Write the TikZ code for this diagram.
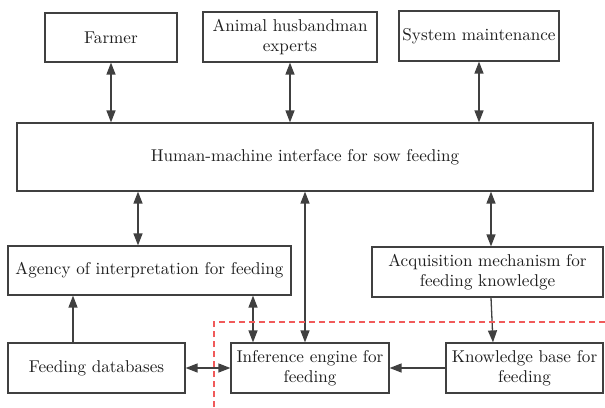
\documentclass[tikz,border=0pt]{standalone}
\usepackage{fontspec}
\newfontfamily\boxfont{lmroman10-regular}[Extension=.otf]
\usetikzlibrary{arrows.meta}
\definecolor{edge}{HTML}{404040}
\definecolor{ink}{HTML}{1E1E1E}
\definecolor{zone}{HTML}{F05A5A}
\begin{document}
\begin{tikzpicture}[x=1pt,y=-1pt,
  box/.style={draw=edge,line width=1.2pt,inner sep=0.5pt,align=center,
    text=ink,font=\boxfont\fontsize{17.1}{20.5}\selectfont},
  link/.style={draw=edge,line width=1.3pt},
  dbl/.style={link,{Triangle[length=12pt,width=9pt]}-{Triangle[length=12pt,width=9pt]}},
  one/.style={link,-{Triangle[length=12pt,width=9pt]}},
  zoneline/.style={draw=zone,line width=1.4pt,dash pattern=on 6pt off 4pt}]
\useasboundingbox (0,0) rectangle (605,407);

% top row: users of the system
\node[box,minimum width=132pt,minimum height=49pt] (farmer) at (111,37.5) {Farmer};
\node[box,minimum width=174pt,minimum height=50pt] (expert) at (290,37) {Animal husbandman\\experts};
\node[box,minimum width=160pt,minimum height=50pt] (maint) at (479,36) {System maintenance};

% interface
\node[box,minimum width=576pt,minimum height=68pt] (hmi) at (305,157) {Human-machine interface for sow feeding};

% middle row
\node[box,minimum width=283pt,minimum height=49pt] (agency) at (149.5,270.5) {Agency of interpretation for feeding};
\node[box,minimum width=231pt,minimum height=50pt] (acq) at (487.5,272) {Acquisition mechanism for\\feeding knowledge};

% bottom row
\node[box,minimum width=177pt,minimum height=50pt] (db) at (96.5,368) {Feeding databases};
\node[box,minimum width=158pt,minimum height=50pt] (infer) at (310,368) {Inference engine for\\feeding};
\node[box,minimum width=157pt,minimum height=50pt] (know) at (524.5,368) {Knowledge base for\\feeding};

% vertical positions of the connectors
\coordinate (c73) at (73,0);
\coordinate (c138) at (138,0);
\coordinate (c253) at (253,0);
\coordinate (c305) at (305,0);
\coordinate (c491) at (491,0);
\coordinate (c493) at (493,0);

% connectors
\draw[dbl] (farmer.south) -- (farmer.south |- hmi.north);
\draw[dbl] (expert.south) -- (expert.south |- hmi.north);
\draw[dbl] (maint.south) -- (maint.south |- hmi.north);
\draw[dbl] (hmi.south -| c138) -- (agency.north -| c138);
\draw[dbl] (hmi.south -| c305) -- (infer.north -| c305);
\draw[dbl] (hmi.south -| c491) -- (acq.north -| c491);
\draw[one] (db.north -| c73) -- (agency.south -| c73);
\draw[dbl] (agency.south -| c253) -- (infer.north -| c253);
\draw[one] (acq.south -| c491) -- (know.north -| c493);
\draw[one] (know.west) -- (infer.east);
\draw[dbl] (db.east) -- (infer.west);

% dashed boundary of the reasoning part
\coordinate (zbot) at (214,407);
\coordinate (zcorner) at (214,322);
\coordinate (zright) at (605,322);
\draw[zoneline] (zbot) -- (zcorner) -- (zright);
\end{tikzpicture}
\end{document}
